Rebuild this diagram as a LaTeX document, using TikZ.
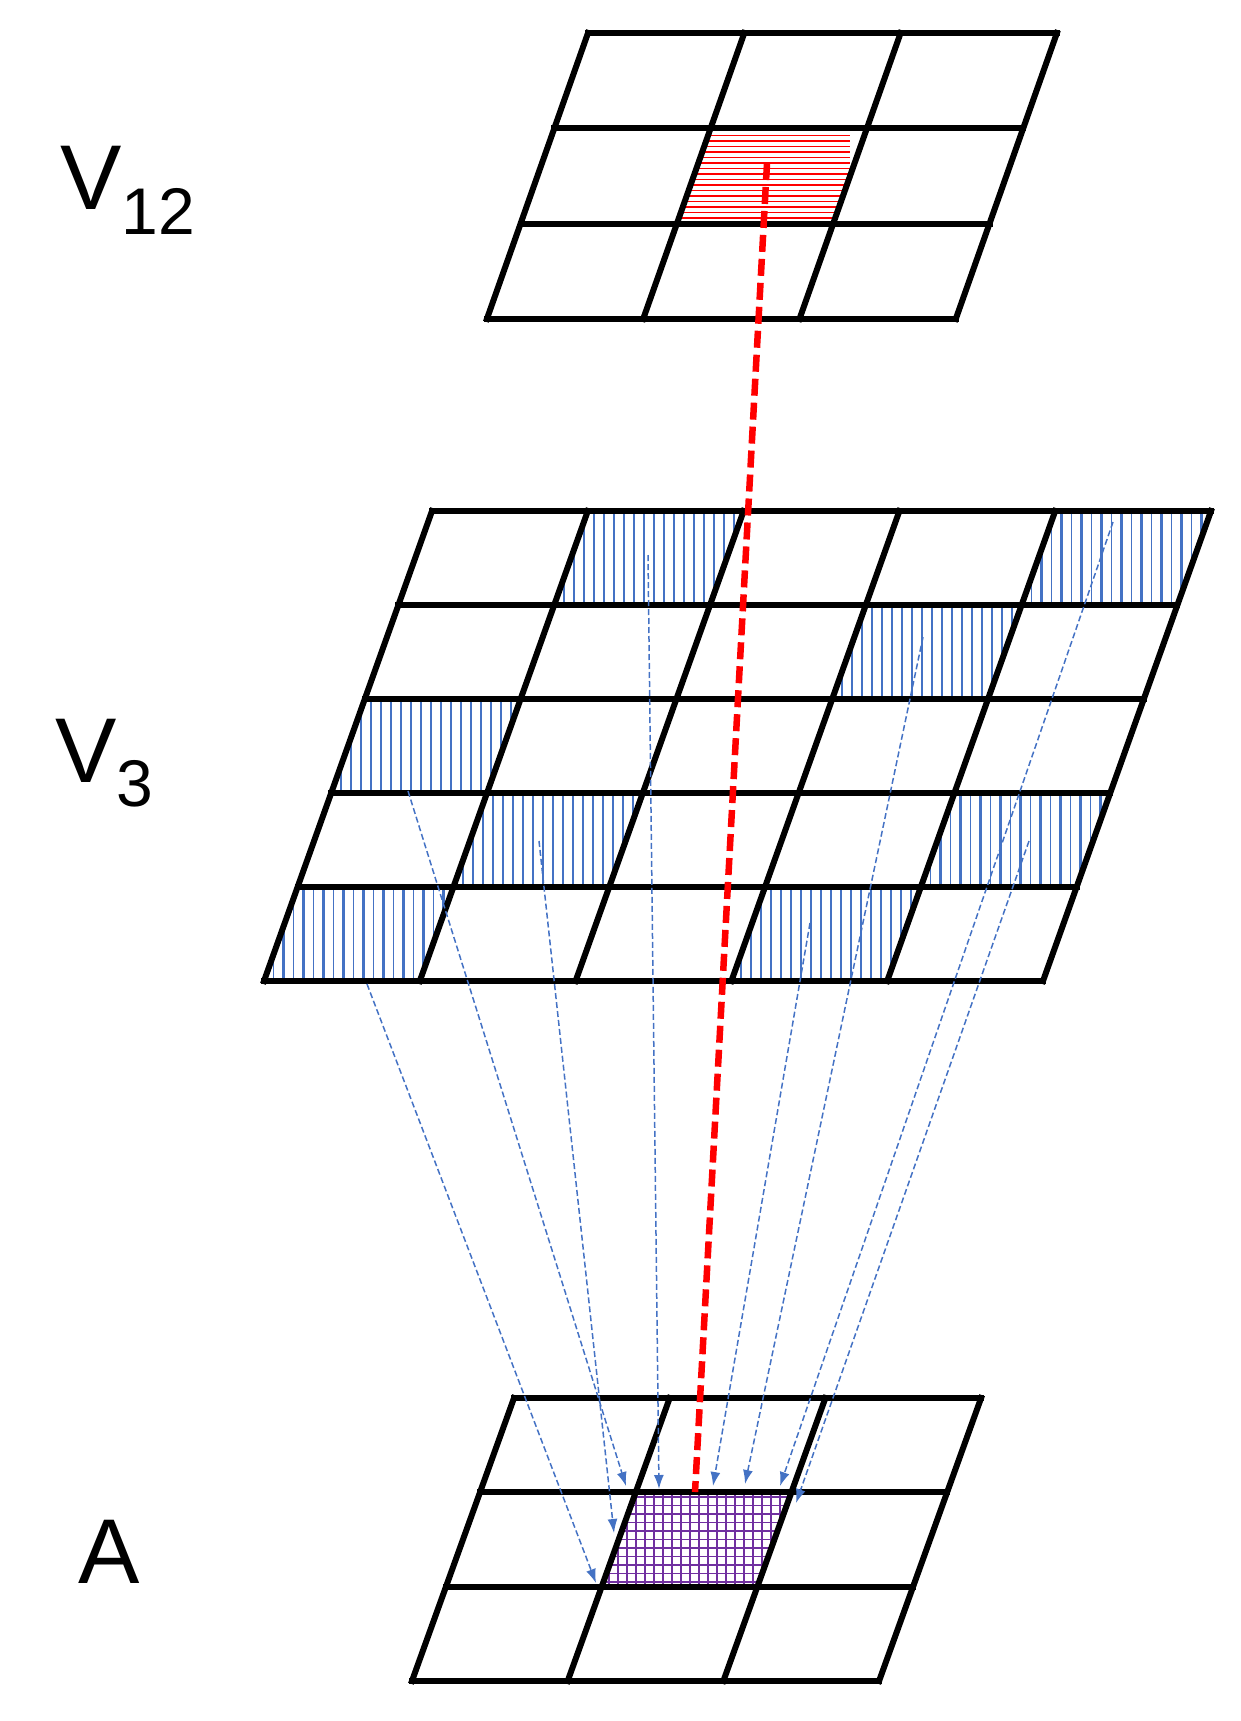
\documentclass[tikz,border=0pt]{standalone}
\usepackage{fontspec}
\setmainfont{Liberation Sans}
\usetikzlibrary{arrows.meta}
\definecolor{hblue}{RGB}{68,114,196}
\definecolor{hpurple}{RGB}{112,48,160}
\begin{document}
\begin{tikzpicture}[x=1pt,y=-1pt,
  gridline/.style={line width=6pt,line join=miter,line cap=rect},
  blink/.style={hblue,line width=1.5pt,dash pattern=on 6pt off 3pt,-{Latex[length=14pt,width=10pt]}},
  redlink/.style={red,line width=6.5pt,dash pattern=on 17pt off 7pt},
  lab/.style={font=\fontsize{92}{92}\selectfont,inner sep=0pt,anchor=base west}]
\useasboundingbox (0,0) rectangle (1241,1721);
\newcommand{\cellpath}[7]{% x0 y0 w h s col row
  (#1+#6*#3-#7*#5,#2+#7*#4) -- (#1+#6*#3+#3-#7*#5,#2+#7*#4) -- (#1+#6*#3+#3-#7*#5-#5,#2+#7*#4+#4) -- (#1+#6*#3-#7*#5-#5,#2+#7*#4+#4) -- cycle}
\newcommand{\vhatch}[2]{% V3 cell col row
  \begin{scope}
  \clip \cellpath{432}{511}{155.8}{94}{33.6}{#1}{#2};
  \foreach \k in {0,...,10} \draw[hblue,line width=2.6pt] (432+#1*155.8-#2*33.6-34+\k*20,511+#2*94) -- ++(0,94);
  \foreach \k in {0,...,10} \draw[hblue,line width=1.4pt] (442+#1*155.8-#2*33.6-34+\k*20,511+#2*94) -- ++(0,94);
  \end{scope}}
\begin{scope}
\clip \cellpath{588}{33}{156.3}{95.3}{33.7}{1}{1};
\foreach \k in {0,...,17} \draw[red,line width=1.5pt] (600,130+\k*5.5) -- ++(250,0);
\end{scope}
\vhatch{1}{0}\vhatch{4}{0}\vhatch{3}{1}\vhatch{0}{2}\vhatch{1}{3}\vhatch{4}{3}\vhatch{0}{4}\vhatch{3}{4}
\begin{scope}
\clip \cellpath{514}{1398}{155.7}{94.3}{34}{1}{1};
\foreach \k in {0,...,22} \draw[hpurple,line width=1.2pt] (600+\k*9,1480) -- ++(0,110);
\foreach \k in {0,...,11} \draw[hpurple,line width=1.2pt] (600,1497+\k*8.5) -- ++(230,0);
\end{scope}
\newcommand{\grid}[7]{% x0 y0 w h s ncol nrow
  \foreach \j in {0,...,#7} \draw[gridline] (#1-\j*#5,#2+\j*#4) -- ++(#6*#3,0);
  \foreach \i in {0,...,#6} \draw[gridline] (#1+\i*#3,#2) -- ++(-#7*#5,#7*#4);}
\grid{588}{33}{156.3}{95.3}{33.7}{3}{3}
\grid{432}{511}{155.8}{94}{33.6}{5}{5}
\grid{514}{1398}{155.7}{94.3}{34}{3}{3}
\coordinate (r0) at (767,163);
\coordinate (r1) at (695,1492);
\coordinate (s1) at (648,555);  \coordinate (e1) at (659,1489);
\coordinate (s2) at (923,637);  \coordinate (e2) at (745,1484);
\coordinate (s3) at (408,791);  \coordinate (e3) at (626,1486);
\coordinate (s4) at (539,841);  \coordinate (e4) at (614,1533);
\coordinate (s5) at (1029,841); \coordinate (e5) at (796,1503);
\coordinate (s6) at (367,984);  \coordinate (e6) at (596,1583);
\coordinate (s7) at (810,923);  \coordinate (e7) at (713,1486);
\coordinate (s8) at (1113,522); \coordinate (e8) at (780,1486);
\foreach \n in {1,...,8} \draw[blink] (s\n) -- (e\n);
\draw[redlink] (r0) -- (r1);
\node[lab] (l12) at (60,209) {V\raisebox{-25pt}{\fontsize{66}{66}\selectfont 12}};
\node[lab] (l3) at (55,782) {V\raisebox{-24pt}{\fontsize{66}{66}\selectfont 3}};
\node[lab] (la) at (78,1583) {A};
\end{tikzpicture}
\end{document}
